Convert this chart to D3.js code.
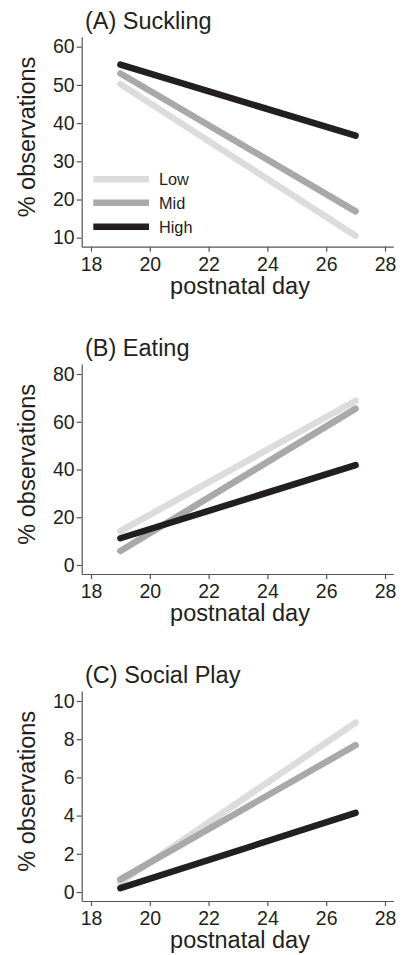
<!DOCTYPE html>
<html>
<head>
<meta charset="utf-8">
<script src="https://cdn.jsdelivr.net/npm/d3@7"></script>
<style>
  html, body { margin: 0; padding: 0; background: #fff; }
  svg text { font-family: "Liberation Sans", Arial, Helvetica, sans-serif; fill: #231f20; }
</style>
</head>
<body>
<svg id="chart" width="402" height="955"></svg>
<script>
// ---- data ----
const days = [19, 27];
const groups = ["Low", "Mid", "High"];
const xTicks = [18, 20, 22, 24, 26, 28];

const sucklingLow  = [50.2, 10.5];
const sucklingMid  = [53.0, 16.9];
const sucklingHigh = [55.3, 36.7];

const eatingLow  = [14.2, 68.8];
const eatingMid  = [5.9, 65.5];
const eatingHigh = [11.2, 41.8];

const playLow  = [0.5, 8.87];
const playMid  = [0.66, 7.69];
const playHigh = [0.2, 4.14];

const sucklingTicks = [10, 20, 30, 40, 50, 60];
const eatingTicks = [0, 20, 40, 60, 80];
const playTicks = [0, 2, 4, 6, 8, 10];

const panelTitles = ["(A) Suckling", "(B) Eating", "(C) Social Play"];

// ---- styling / layout ----
const colors = { Low: "#dcdcdc", Mid: "#a9a9ab", High: "#231f20" };
const ink = "#231f20";

const panels = [
  { title: panelTitles[0], series: { Low: sucklingLow, Mid: sucklingMid, High: sucklingHigh }, ticks: sucklingTicks, off: 0, legend: true },
  { title: panelTitles[1], series: { Low: eatingLow, Mid: eatingMid, High: eatingHigh }, ticks: eatingTicks, off: 327.3, legend: false },
  { title: panelTitles[2], series: { Low: playLow, Mid: playMid, High: playHigh }, ticks: playTicks, off: 654.3, legend: false }
];

const svg = d3.select("#chart");

const axisLeftX = 81.7, axisRightX = 393.3;
const topTickY = 46.7, botTickY = 237.7, axisY = 246.7, axisTopY = 36.7;

const x = d3.scaleLinear().domain([18, 28]).range([91, 385]);

panels.forEach(p => {
  const g = svg.append("g").attr("transform", `translate(0,${p.off})`);
  const t0 = p.ticks[0], t1 = p.ticks[p.ticks.length - 1];
  const yBase = d3.scaleLinear().domain([t0, t1]).range([botTickY, topTickY]);
  const y = d3.scaleLinear()
    .domain([yBase.invert(axisY), yBase.invert(axisTopY)])
    .range([axisY, axisTopY]);
  const xs = d3.scaleLinear().domain([x.invert(axisLeftX), x.invert(axisRightX)]).range([axisLeftX, axisRightX]);

  // y axis
  const ya = g.append("g").attr("transform", `translate(${axisLeftX},0)`)
    .call(d3.axisLeft(y).tickValues(p.ticks).tickSize(5).tickSizeOuter(0).tickPadding(2).tickFormat(d3.format("d")));
  ya.select(".domain").attr("stroke", "#555").attr("stroke-width", 1.2);
  ya.selectAll(".tick line").attr("stroke", "#555").attr("stroke-width", 1.2);
  ya.selectAll(".tick text").attr("font-size", 19.5).attr("fill", ink)
    .attr("font-family", '"Liberation Sans", Arial, sans-serif');

  // x axis
  const xa = g.append("g").attr("transform", `translate(0,${axisY})`)
    .call(d3.axisBottom(xs).tickValues(xTicks).tickSize(5).tickSizeOuter(0).tickPadding(4));
  xa.select(".domain").attr("stroke", "#555").attr("stroke-width", 1.2);
  xa.selectAll(".tick line").attr("stroke", "#555").attr("stroke-width", 1.2);
  xa.selectAll(".tick text").attr("font-size", 19.5).attr("fill", ink).attr("dy", null).attr("y", 24.3)
    .attr("font-family", '"Liberation Sans", Arial, sans-serif');

  // lines
  const line = d3.line().x((d, i) => xs(days[i])).y(d => y(d));
  groups.forEach(k => {
    g.append("path")
      .datum(p.series[k])
      .attr("d", line)
      .attr("fill", "none")
      .attr("stroke", colors[k])
      .attr("stroke-width", 6.5)
      .attr("stroke-linecap", "round");
  });

  // title
  g.append("text").attr("x", 85).attr("y", 28.5).attr("font-size", 23.5).text(p.title);

  // axis titles
  g.append("text").attr("x", 240).attr("y", 294).attr("text-anchor", "middle")
    .attr("font-size", 23.5).text("postnatal day");
  g.append("text").attr("transform", `translate(35,137) rotate(-90)`).attr("text-anchor", "middle")
    .attr("font-size", 23.5).text("% observations");

  // legend
  if (p.legend) {
    const ly = [179.3, 202.7, 226.7];
    groups.forEach((k, i) => {
      g.append("line").attr("x1", 93.3).attr("x2", 149).attr("y1", ly[i]).attr("y2", ly[i])
        .attr("stroke", colors[k]).attr("stroke-width", 6.5);
      g.append("text").attr("x", 159).attr("y", ly[i] + 5.8).attr("font-size", 16.3).text(k);
    });
  }
});
</script>
</body>
</html>
